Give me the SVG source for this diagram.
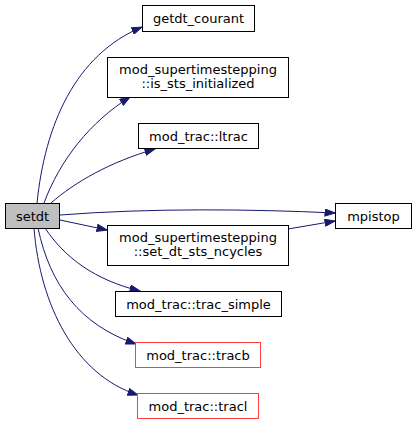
<svg xmlns="http://www.w3.org/2000/svg" width="416" height="424" viewBox="0 0 416 424">
<style>
.n rect{fill:#ffffff;stroke:#000000;stroke-width:1}
.n.r rect{stroke:#ff4040}
.n.cur rect{fill:#bfbfbf}
.n text{font-family:"DejaVu Sans",sans-serif;font-size:13px;text-anchor:middle;fill:#000000}
.e path{fill:none;stroke:#191970;stroke-width:1;marker-end:url(#ah)}
</style>
<defs>
<marker id="ah" viewBox="0 0 11 8" refX="10.5" refY="4" markerWidth="11" markerHeight="8" markerUnits="userSpaceOnUse" orient="auto">
<path d="M0.5,0.5 L10.5,4 L0.5,7.5 Z" fill="#191970" stroke="#191970" stroke-width="1"/>
</marker>
</defs>
<rect width="416" height="424" fill="#ffffff"/>
<g id="edges" class="e">
<path d="M37,203 C45,125 75,55 142,27"/>
<path d="M44,203 C60,160 90,122 130,97"/>
<path d="M51,203 C75,182 110,162 155,149"/>
<path d="M60,215 C150,208 250,209 335,213"/>
<path d="M60,220 L107,230"/>
<path d="M288,229 L335,221"/>
<path d="M45,228 C65,258 95,280 140,291"/>
<path d="M38,228 C50,285 80,325 136,344"/>
<path d="M34,228 C40,305 75,375 138,395"/>
</g>
<g id="setdt" class="n cur"><rect x="5.5" y="203.5" width="54" height="25"/><text x="32.5" y="221">setdt</text></g>
<g id="getdt_courant" class="n"><rect x="142.5" y="5.5" width="112" height="26"/><text x="198.5" y="23">getdt_courant</text></g>
<g id="is_sts_initialized" class="n"><rect x="107.5" y="57.5" width="181" height="40"/><text x="198" y="74">mod_supertimestepping</text><text x="198" y="88">::is_sts_initialized</text></g>
<g id="ltrac" class="n"><rect x="138.5" y="123.5" width="120" height="25"/><text x="198.5" y="141">mod_trac::ltrac</text></g>
<g id="mpistop" class="n"><rect x="335.5" y="203.5" width="76" height="25"/><text x="373.5" y="221">mpistop</text></g>
<g id="set_dt_sts_ncycles" class="n"><rect x="107.5" y="225.5" width="181" height="40"/><text x="198" y="242">mod_supertimestepping</text><text x="198" y="256">::set_dt_sts_ncycles</text></g>
<g id="trac_simple" class="n"><rect x="115.5" y="291.5" width="166" height="25"/><text x="198.5" y="309">mod_trac::trac_simple</text></g>
<g id="tracb" class="n r"><rect x="135.5" y="342.5" width="125" height="25"/><text x="198" y="360">mod_trac::tracb</text></g>
<g id="tracl" class="n r"><rect x="137.5" y="393.5" width="121" height="25"/><text x="198" y="411">mod_trac::tracl</text></g>
</svg>
